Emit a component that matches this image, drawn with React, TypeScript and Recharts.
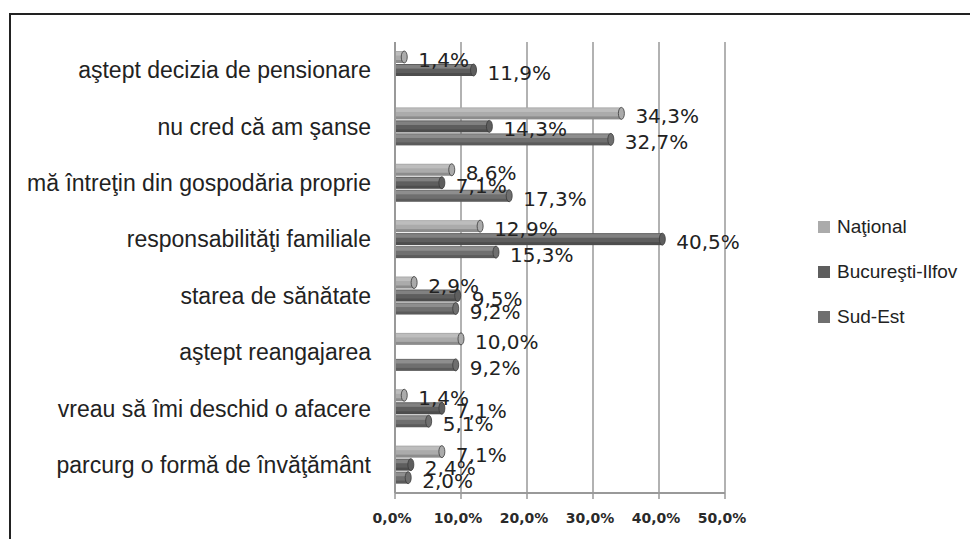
import React from "react";
import {
  BarChart,
  Bar,
  XAxis,
  YAxis,
  CartesianGrid,
  LabelList,
  Legend,
} from "recharts";

const categories = [
  "aştept decizia de pensionare",
  "nu cred că am şanse",
  "mă întreţin din gospodăria proprie",
  "responsabilităţi familiale",
  "starea de sănătate",
  "aştept reangajarea",
  "vreau să îmi deschid o afacere",
  "parcurg o formă de învăţământ",
];

const national = [1.4, 34.3, 8.6, 12.9, 2.9, 10.0, 1.4, 7.1];
const bucurestiIlfov = [11.9, 14.3, 7.1, 40.5, 9.5, null, 7.1, 2.4];
const sudEst = [null, 32.7, 17.3, 15.3, 9.2, 9.2, 5.1, 2.0];

const xTicks = [0, 10, 20, 30, 40, 50];
const seriesNames = ["Naţional", "Bucureşti-Ilfov", "Sud-Est"];
const seriesKeys = ["national", "bucurestiIlfov", "sudEst"];
const seriesColors = ["#ababab", "#5e5e5e", "#6f6f6f"];

const data = categories.map((name, i) => ({
  name,
  national: national[i],
  bucurestiIlfov: bucurestiIlfov[i],
  sudEst: sudEst[i],
}));

const fmt = (v: number) => v.toFixed(1).replace(".", ",") + "%";

const Bar3D = (props: any) => {
  const { x, y, width, height, fill } = props;
  if (width == null || width <= 0 || height == null) return null;
  const cap = Math.min(3, width / 2);
  return (
    <g>
      <rect x={x} y={y} width={width} height={height} fill={fill} />
      <rect x={x} y={y + 1} width={width} height={height * 0.3} fill="#ffffff" opacity={0.22} />
      <rect x={x} y={y + height * 0.75} width={width} height={height * 0.25} fill="#000000" opacity={0.18} />
      <ellipse cx={x + width} cy={y + height / 2} rx={cap} ry={height / 2} fill={fill} stroke="#3a3a3a" strokeWidth={0.8} />
    </g>
  );
};

const renderValueLabel = (props: any) => {
  const { x, y, width, height, value } = props;
  if (value == null) return null;
  return (
    <text
      x={x + width + 14}
      y={y + height / 2 + 3}
      dominantBaseline="central"
      fontFamily="DejaVu Sans"
      fontSize={20}
      fill="#222"
    >
      {fmt(Number(value))}
    </text>
  );
};

const LegendContent = () => (
  <div style={{ fontFamily: "Liberation Sans, Arial, sans-serif", fontSize: 19, color: "#222" }}>
    {seriesNames.map((n, i) => (
      <div key={n} style={{ height: 45, display: "flex", alignItems: "center", whiteSpace: "nowrap" }}>
        <span style={{ display: "inline-block", width: 12, height: 12, background: seriesColors[i], marginRight: 7 }} />
        <span>{n}</span>
      </div>
    ))}
  </div>
);

export default function App() {
  return (
    <div style={{ position: "relative", width: 970, height: 531, overflow: "hidden", background: "#fff" }}>
      <div
        style={{
          position: "absolute",
          left: 1,
          top: 5,
          width: 1000,
          height: 600,
          border: "2px solid #222",
          boxSizing: "border-box",
        }}
      />
      <div style={{ position: "absolute", left: 0, top: 0 }}>
        <BarChart
          width={970}
          height={531}
          data={data}
          layout="vertical"
          margin={{ top: 34, right: 253, bottom: 0, left: 0 }}
          barSize={12}
          barGap={1}
        >
          <CartesianGrid horizontal={false} vertical={true} stroke="#999" strokeWidth={1.5} />
          <XAxis
            type="number"
            domain={[0, 50]}
            ticks={xTicks}
            height={46}
            tickFormatter={(v: number) => fmt(v)}
            axisLine={{ stroke: "#999", strokeWidth: 2 }}
            tickLine={{ stroke: "#999", strokeWidth: 1.5 }}
            tickSize={6}
            tickMargin={14}
            tick={{ fontFamily: "DejaVu Sans", fontWeight: "bold", fontSize: 14, fill: "#2a2a2a", dx: -3 }}
            interval={0}
          />
          <YAxis
            type="category"
            dataKey="name"
            width={387}
            axisLine={{ stroke: "#999", strokeWidth: 2 }}
            tickLine={false}
            tickSize={0}
            tickMargin={24}
            interval={0}
            tick={{ fontFamily: "Liberation Sans, Arial, sans-serif", fontSize: 23, fill: "#222" }}
          />
          <Legend
            layout="vertical"
            align="center"
            verticalAlign="middle"
            content={<LegendContent />}
            wrapperStyle={{ left: 810, top: 196, width: 170 }}
          />
          {seriesKeys.map((k, i) => (
            <Bar
              key={k}
              dataKey={k}
              name={seriesNames[i]}
              fill={seriesColors[i]}
              shape={<Bar3D />}
              isAnimationActive={false}
            >
              <LabelList dataKey={k} content={renderValueLabel} />
            </Bar>
          ))}
        </BarChart>
      </div>
    </div>
  );
}
